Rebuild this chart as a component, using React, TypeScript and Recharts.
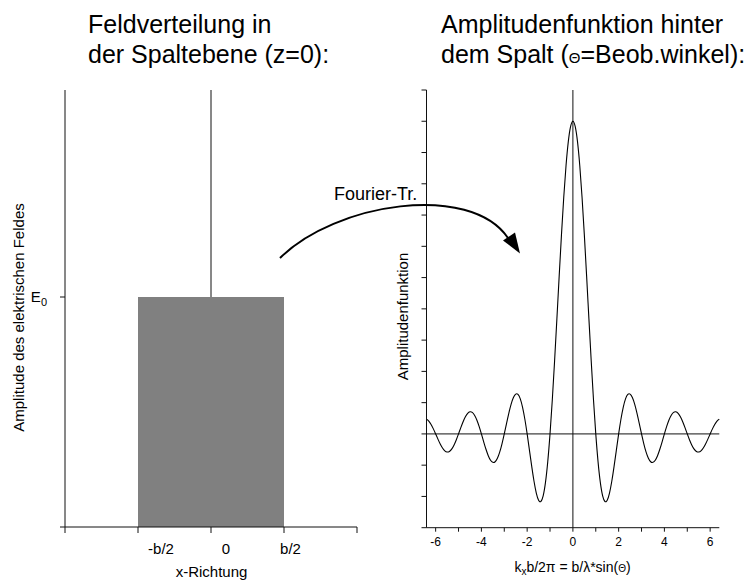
import React from 'react';
import { ComposedChart, LineChart, Line, Area, XAxis, YAxis, ReferenceLine } from 'recharts';

// ---------- left panel: field distribution in the slit plane ----------
const fieldXTicks = [-2, -1, 0, 1, 2];
const fieldXTickLabels = ['', '-b/2', '0', 'b/2', ''];
const fieldYTicks = [0, 1];
const fieldYTickLabels = ['', 'E'];
const slitEdges = [-1, 1];
const fieldAmplitude = [1, 1];
const centerLineX = [0, 0];
const centerLineY = [1, 1.9];

// ---------- right panel: amplitude function behind the slit ----------
const ampXTicks = [-6, -5, -4, -3, -2, -1, 0, 1, 2, 3, 4, 5, 6];
const ampXTickLabels = ['-6', '', '-4', '', '-2', '', '0', '', '2', '', '4', '', '6'];
const ampYTicks = [-0.3, -0.2, -0.1, 0, 0.1, 0.2, 0.3, 0.4, 0.5, 0.6, 0.7, 0.8, 0.9, 1.0, 1.1];

const ampX = [
  -6.4, -6.3, -6.2, -6.1, -6.0, -5.9, -5.8, -5.7, -5.6, -5.5, -5.4, -5.3, -5.2, -5.1, -5.0,
  -4.9, -4.8, -4.7, -4.6, -4.5, -4.4, -4.3, -4.2, -4.1, -4.0, -3.9, -3.8, -3.7, -3.6, -3.5,
  -3.4, -3.3, -3.2, -3.1, -3.0, -2.9, -2.8, -2.7, -2.6, -2.5, -2.4, -2.3, -2.2, -2.1, -2.0,
  -1.9, -1.8, -1.7, -1.6, -1.5, -1.4, -1.3, -1.2, -1.1, -1.0, -0.9, -0.8, -0.7, -0.6, -0.5,
  -0.4, -0.3, -0.2, -0.1, 0.0,
  0.1, 0.2, 0.3, 0.4, 0.5, 0.6, 0.7, 0.8, 0.9, 1.0, 1.1, 1.2, 1.3, 1.4, 1.5,
  1.6, 1.7, 1.8, 1.9, 2.0, 2.1, 2.2, 2.3, 2.4, 2.5, 2.6, 2.7, 2.8, 2.9, 3.0,
  3.1, 3.2, 3.3, 3.4, 3.5, 3.6, 3.7, 3.8, 3.9, 4.0, 4.1, 4.2, 4.3, 4.4, 4.5,
  4.6, 4.7, 4.8, 4.9, 5.0, 5.1, 5.2, 5.3, 5.4, 5.5, 5.6, 5.7, 5.8, 5.9, 6.0,
  6.1, 6.2, 6.3, 6.4,
];

const ampY = [
  0.0473, 0.0409, 0.0302, 0.0161, 0.0, -0.0167, -0.0323, -0.0452, -0.0541, -0.0579, -0.0561, -0.0486, -0.0360, -0.0193, 0.0,
  0.0201, 0.0390, 0.0548, 0.0658, 0.0707, 0.0688, 0.0599, 0.0446, 0.0240, 0.0, -0.0252, -0.0492, -0.0696, -0.0841, -0.0909,
  -0.0890, -0.0780, -0.0585, -0.0317, 0.0, 0.0339, 0.0668, 0.0954, 0.1164, 0.1273, 0.1261, 0.1120, 0.0850, 0.0468, 0.0,
  -0.0518, -0.1039, -0.1515, -0.1892, -0.2122, -0.2162, -0.1981, -0.1559, -0.0894, 0.0, 0.1093, 0.2339, 0.3679, 0.5046, 0.6366,
  0.7568, 0.8584, 0.9355, 0.9836, 1.0,
  0.9836, 0.9355, 0.8584, 0.7568, 0.6366, 0.5046, 0.3679, 0.2339, 0.1093, 0.0, -0.0894, -0.1559, -0.1981, -0.2162, -0.2122,
  -0.1892, -0.1515, -0.1039, -0.0518, 0.0, 0.0468, 0.0850, 0.1120, 0.1261, 0.1273, 0.1164, 0.0954, 0.0668, 0.0339, 0.0,
  -0.0317, -0.0585, -0.0780, -0.0890, -0.0909, -0.0841, -0.0696, -0.0492, -0.0252, 0.0, 0.0240, 0.0446, 0.0599, 0.0688, 0.0707,
  0.0658, 0.0548, 0.0390, 0.0201, 0.0, -0.0193, -0.0360, -0.0486, -0.0561, -0.0579, -0.0541, -0.0452, -0.0323, -0.0167, 0.0,
  0.0161, 0.0302, 0.0409, 0.0473,
];

// ---------- tables built from the arrays ----------
const fieldData = slitEdges.map((x, i) => ({ x, e: fieldAmplitude[i] }));
const centerLineData = centerLineX.map((x, i) => ({ x, e: centerLineY[i] }));
const ampData = ampX.map((x, i) => ({ x, a: ampY[i] }));

const FONT = '"Liberation Sans", Arial, Helvetica, sans-serif';
const AXIS = '#111';
const fieldLabelDx = [0, 23, 15, 6.5, 0];

const FieldXTick = (props: any) => {
  const { x, y, payload } = props;
  const i = fieldXTicks.indexOf(payload.value);
  const label = i >= 0 ? fieldXTickLabels[i] : '';
  if (!label) return null;
  return (
    <text x={x + fieldLabelDx[i]} y={y} dy="0.71em" textAnchor="middle" fontSize={15} fontFamily={FONT} fill="#000">
      {label}
    </text>
  );
};

const FieldYTick = (props: any) => {
  const { x, y, payload } = props;
  const i = fieldYTicks.indexOf(payload.value);
  const label = i >= 0 ? fieldYTickLabels[i] : '';
  if (!label) return null;
  return (
    <text x={x} y={y} dy="0.355em" textAnchor="end" fontSize={15} fontFamily={FONT} fill="#000" stroke="none">
      {label}
      <tspan dy={4} fontSize={11} fill="#000">0</tspan>
    </text>
  );
};

const AmpXTick = (props: any) => {
  const { x, y, payload } = props;
  const i = ampXTicks.indexOf(payload.value);
  const label = i >= 0 ? ampXTickLabels[i] : '';
  if (!label) return null;
  return (
    <text x={x} y={y} dy="0.71em" textAnchor="middle" fontSize={12} fontFamily={FONT} fill="#000">
      {label}
    </text>
  );
};

export default function App() {
  return (
    <div style={{ position: 'absolute', left: 0, top: 0, width: 748, height: 583, background: '#fff', overflow: 'hidden' }}>
      <div style={{ position: 'absolute', left: 0, top: 0 }}>
        <ComposedChart width={374} height={583} data={fieldData} margin={{ top: 90, right: 17, bottom: 0, left: 0 }}>
          <XAxis
            type="number"
            dataKey="x"
            domain={[-2, 2]}
            ticks={fieldXTicks}
            interval={0}
            height={56}
            tickSize={6}
            tickMargin={10}
            axisLine={{ stroke: AXIS }}
            tickLine={{ stroke: AXIS }}
            tick={<FieldXTick />}
          />
          <YAxis
            type="number"
            domain={[0, 1.9]}
            ticks={fieldYTicks}
            interval={0}
            width={65}
            tickSize={5}
            tickMargin={13}
            axisLine={{ stroke: AXIS }}
            tickLine={{ stroke: AXIS }}
            tick={<FieldYTick />}
          />
          <Area
            dataKey="e"
            type="linear"
            stroke="none"
            fill="#808080"
            fillOpacity={1}
            isAnimationActive={false}
          />
          <Line
            data={centerLineData}
            dataKey="e"
            type="linear"
            stroke={AXIS}
            strokeWidth={1}
            dot={false}
            isAnimationActive={false}
          />
        </ComposedChart>
      </div>

      <div style={{ position: 'absolute', left: 374, top: 0 }}>
        <LineChart width={374} height={583} data={ampData} margin={{ top: 90, right: 28.7, bottom: 0, left: 0 }}>
          <XAxis
            type="number"
            dataKey="x"
            domain={[-6.4, 6.4]}
            ticks={ampXTicks}
            interval={0}
            height={55.3}
            tickSize={4}
            tickMargin={6}
            axisLine={{ stroke: AXIS }}
            tickLine={{ stroke: AXIS }}
            tick={<AmpXTick />}
          />
          <YAxis
            type="number"
            domain={[-0.3, 1.1]}
            ticks={ampYTicks}
            interval={0}
            width={52.5}
            tickSize={5}
            tickFormatter={() => ''}
            axisLine={{ stroke: AXIS }}
            tickLine={{ stroke: AXIS }}
          />
          <ReferenceLine y={0} stroke={AXIS} strokeWidth={1} />
          <ReferenceLine x={0} stroke={AXIS} strokeWidth={1} />
          <Line
            dataKey="a"
            type="natural"
            stroke="#000"
            strokeWidth={1.1}
            dot={false}
            isAnimationActive={false}
          />
        </LineChart>
      </div>

      <svg
        width={748}
        height={583}
        style={{ position: 'absolute', left: 0, top: 0, pointerEvents: 'none' }}
        fontFamily={FONT}
      >
        <text x={88} y={33} fontSize={25} fill="#000">Feldverteilung in</text>
        <text x={88} y={63} fontSize={25} fill="#000">der Spaltebene (z=0):</text>
        <text x={441} y={33} fontSize={25} fill="#000">Amplitudenfunktion hinter</text>
        <text x={441} y={63} fontSize={25} fill="#000">
          dem Spalt (<tspan fontSize={15}>Θ</tspan>=Beob.winkel):
        </text>

        <text x={334} y={200} fontSize={18} fill="#000">Fourier-Tr.</text>
        <path d="M 280 258 C 335 203, 470 182, 508 238" fill="none" stroke="#000" strokeWidth={2} />
        <polygon points="520,253.5 503,240.5 515,232.5" fill="#000" />

        <text
          transform="translate(18.5,317.5) rotate(-90)"
          textAnchor="middle"
          dominantBaseline="central"
          fontSize={15}
          fill="#000"
        >
          Amplitude des elektrischen Feldes
        </text>
        <text
          transform="translate(402.7,316.5) rotate(-90)"
          textAnchor="middle"
          dominantBaseline="central"
          fontSize={15}
          fill="#000"
        >
          Amplitudenfunktion
        </text>

        <text x={211.5} y={577} textAnchor="middle" fontSize={15} fill="#000">x-Richtung</text>
        <text x={572.5} y={572} textAnchor="middle" fontSize={14} fill="#000">
          k<tspan dy={3} fontSize={10}>x</tspan>
          <tspan dy={-3}>b/2π = b/λ*sin(</tspan>
          <tspan fontSize={10}>Θ</tspan>
          <tspan>)</tspan>
        </text>
      </svg>
    </div>
  );
}
